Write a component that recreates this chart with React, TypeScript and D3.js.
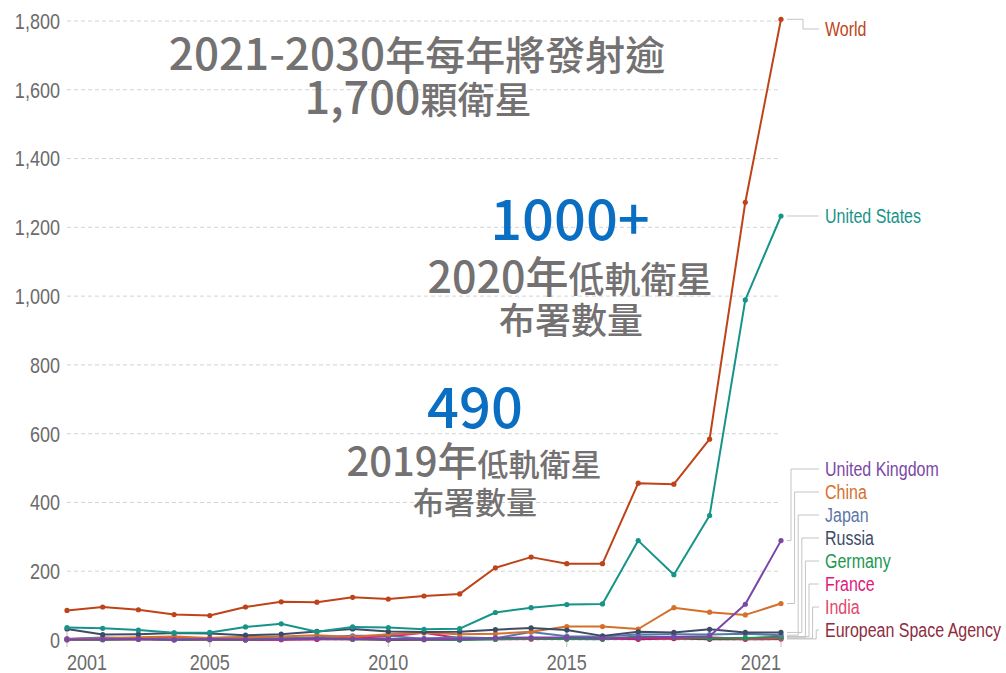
import React from "react";
import * as d3 from "d3";

const years = d3.range(2001, 2022);

const seriesNames = [
  "World",
  "United States",
  "United Kingdom",
  "China",
  "Japan",
  "Russia",
  "Germany",
  "France",
  "India",
  "European Space Agency",
];

const seriesColors = [
  "#bf4318",
  "#179488",
  "#7b47a6",
  "#d5702a",
  "#5b77a8",
  "#3c4c66",
  "#1b9850",
  "#e0197c",
  "#e2476c",
  "#8e2c3f",
];

const world = [86, 96, 88, 74, 71, 96, 111, 110, 124, 119, 128, 134, 210, 241, 222, 222, 456, 453, 584, 1273, 1805];
const unitedStates = [36, 34, 29, 21, 22, 38, 47, 24, 38, 36, 31, 33, 80, 94, 103, 105, 289, 190, 362, 989, 1233];
const unitedKingdom = [1, 2, 3, 1, 3, 1, 2, 4, 3, 2, 2, 2, 6, 7, 7, 4, 7, 9, 11, 104, 289];
const china = [1, 4, 8, 10, 6, 8, 10, 14, 9, 17, 21, 17, 18, 24, 39, 39, 32, 94, 81, 73, 106];
const japan = [3, 7, 6, 1, 6, 9, 4, 8, 12, 12, 4, 8, 5, 23, 11, 10, 16, 17, 16, 18, 14];
const russia = [32, 16, 17, 20, 19, 14, 17, 25, 32, 25, 23, 24, 30, 35, 29, 12, 24, 22, 31, 22, 22];
const germany = [1, 1, 3, 1, 2, 1, 5, 5, 2, 2, 2, 0, 2, 5, 3, 2, 10, 8, 5, 6, 8];
const france = [3, 6, 2, 9, 2, 2, 2, 2, 7, 10, 21, 5, 3, 4, 4, 3, 4, 6, 5, 4, 10];
const india = [2, 1, 2, 1, 3, 1, 2, 3, 2, 3, 4, 2, 2, 3, 5, 7, 6, 7, 8, 3, 5];
const esa = [2, 2, 3, 1, 1, 0, 1, 2, 3, 0, 1, 1, 4, 3, 3, 5, 2, 4, 2, 2, 3];

const seriesValues = [world, unitedStates, unitedKingdom, china, japan, russia, germany, france, india, esa];

const yTicks = [0, 200, 400, 600, 800, 1000, 1200, 1400, 1600, 1800];
const xTicks = [2001, 2005, 2010, 2015, 2021];

// draw order: bottom lines first, UK on top of the small ones, big ones last
const drawOrder = [9, 8, 7, 6, 4, 3, 5, 2, 1, 0];

const W = 1006;
const H = 673;
const cjk = "'Noto Sans CJK TC', 'Noto Sans CJK SC', sans-serif";
const sans = "'Liberation Sans', Arial, sans-serif";
const squeeze = 0.82; // narrow look, like Arial Narrow
const gray = "#737171";
const blue = "#0a6fc2";

// condensed text: scale horizontally around the anchor point
function NarrowText(props: {
  x: number;
  y: number;
  anchor?: string;
  size: number;
  fill: string;
  dy?: string;
  children: React.ReactNode;
}) {
  return (
    <text
      transform={`translate(${props.x},${props.y}) scale(${squeeze},1)`}
      dy={props.dy}
      textAnchor={props.anchor || "start"}
      fontFamily={sans}
      fontSize={props.size}
      fill={props.fill}
    >
      {props.children}
    </text>
  );
}

export default function App() {
  const x = d3.scaleLinear().domain([2001, 2021]).range([67, 781]);
  const y = d3.scaleLinear().domain([0, 1800]).range([640, 21]);
  const line = d3
    .line<number>()
    .x((_, i) => x(years[i]))
    .y((d) => y(d));

  // label placement: push labels apart (23px), bottom limit then top limit
  const desired = seriesValues.map((v) => y(v[v.length - 1]));
  const labelY = desired.slice();
  for (let i = labelY.length - 1; i >= 0; i--) {
    const limit = i === labelY.length - 1 ? 630 : labelY[i + 1] - 23;
    labelY[i] = Math.min(labelY[i], limit);
  }
  for (let i = 0; i < labelY.length; i++) {
    const limit = i === 0 ? 29 : labelY[i - 1] + 23;
    labelY[i] = Math.max(labelY[i], limit);
  }
  const elbowX = (i: number) => (i < 2 ? 803 : 791 + (i - 2) * 3.6);

  return (
    <svg
      width={W}
      height={H}
      style={{ position: "absolute", left: 0, top: 0, background: "#fff" }}
    >
      {/* grid */}
      {yTicks.map((t) => (
        <g key={t}>
          <line
            x1={x(2001)}
            x2={x(2021)}
            y1={y(t)}
            y2={y(t)}
            stroke="#d4d4d4"
            strokeWidth={1}
            strokeDasharray="4,3"
          />
          <NarrowText x={60} y={y(t)} dy="0.36em" anchor="end" size={22} fill="#6b6b6b">
            {d3.format(",")(t)}
          </NarrowText>
        </g>
      ))}

      {/* x ticks */}
      {xTicks.map((t, i) => (
        <g key={t}>
          <line x1={x(t)} x2={x(t)} y1={632} y2={647} stroke="#bdbdbd" strokeWidth={1} />
          <NarrowText
            x={x(t)}
            y={670}
            anchor={i === 0 ? "start" : i === xTicks.length - 1 ? "end" : "middle"}
            size={22}
            fill="#6b6b6b"
          >
            {t}
          </NarrowText>
        </g>
      ))}

      {/* annotations */}
      <g fontFamily={cjk} fill={gray} fontWeight={500} textAnchor="middle">
        <text x={417} y={70}>
          <tspan fontSize={44}>2021-2030</tspan>
          <tspan fontSize={40}>年每年將發射逾</tspan>
        </text>
        <text x={418} y={114}>
          <tspan fontSize={45}>1,700</tspan>
          <tspan fontSize={37}>顆衛星</tspan>
        </text>
        <text x={570} y={240} fill={blue} fontSize={56}>
          1000+
        </text>
        <text x={570} y={293}>
          <tspan fontSize={43}>2020年</tspan>
          <tspan fontSize={36}>低軌衛星</tspan>
        </text>
        <text x={571} y={334} fontSize={36}>
          布署數量
        </text>
        <text x={475} y={428} fill={blue} fontSize={56}>
          490
        </text>
        <text x={474} y={476}>
          <tspan fontSize={40}>2019年</tspan>
          <tspan fontSize={31}>低軌衛星</tspan>
        </text>
        <text x={475} y={514} fontSize={31}>
          布署數量
        </text>
      </g>

      {/* lines */}
      {drawOrder.map((si) => (
        <g key={seriesNames[si]}>
          <path
            d={line(seriesValues[si]) || ""}
            fill="none"
            stroke={seriesColors[si]}
            strokeWidth={2}
            strokeLinejoin="round"
          />
          {seriesValues[si].map((v, i) => (
            <circle key={i} cx={x(years[i])} cy={y(v)} r={2.6} fill={seriesColors[si]} />
          ))}
        </g>
      ))}

      {/* labels with connectors */}
      {seriesNames.map((name, i) => {
        const py = desired[i];
        const ly = labelY[i];
        const ex = elbowX(i);
        return (
          <g key={name}>
            <path
              d={`M${x(2021) + 6},${py}H${ex}V${ly}H819`}
              fill="none"
              stroke="#c4c4c4"
              strokeWidth={1}
            />
            <NarrowText x={825} y={ly} dy="0.36em" size={19.5} fill={seriesColors[i]}>
              {name}
            </NarrowText>
          </g>
        );
      })}
    </svg>
  );
}
